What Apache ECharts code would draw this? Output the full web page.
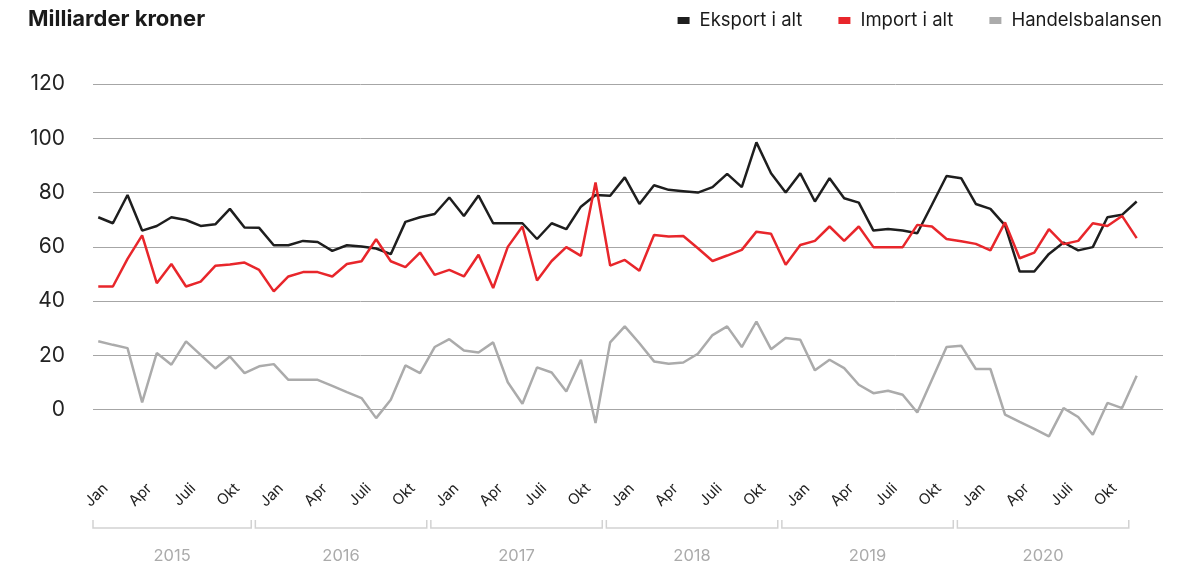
<!DOCTYPE html>
<html>
<head>
<meta charset="utf-8">
<script src="https://cdn.jsdelivr.net/npm/echarts@6/dist/echarts.min.js"></script>
<style>
  html, body { margin: 0; padding: 0; background: #fff; }
  #chart { width: 1188px; height: 566px; }
</style>
</head>
<body>
<div id="chart"></div>
<script>
// ---- data ----
const years = ['2015', '2016', '2017', '2018', '2019', '2020'];
const monthNames = ['Jan', 'Feb', 'Mar', 'Apr', 'Mai', 'Jun', 'Juli', 'Aug', 'Sep', 'Okt', 'Nov', 'Des'];
const yTicks = [0, 20, 40, 60, 80, 100, 120];

const eksport = [
  70.9, 68.7, 79.1, 66.0, 67.7, 70.9, 69.9, 67.7, 68.3, 74.0, 67.1, 67.0,
  60.6, 60.6, 62.2, 61.8, 58.5, 60.6, 60.1, 59.4, 57.3, 69.2, 70.9, 72.1,
  78.2, 71.4, 78.9, 68.7, 68.7, 68.7, 62.9, 68.7, 66.5, 74.8, 79.1, 78.8,
  85.6, 75.8, 82.7, 81.0, 80.5, 80.0, 82.0, 86.9, 82.0, 98.5, 87.1, 80.0,
  87.1, 76.7, 85.3, 77.9, 76.3, 66.0, 66.6, 66.0, 65.0, 75.5, 86.1, 85.3,
  75.8, 74.0, 67.9, 50.9, 50.9, 57.4, 61.6, 58.7, 59.9, 70.9, 71.8, 76.7
];
const importData = [
  45.4, 45.4, 55.6, 64.2, 46.6, 53.7, 45.4, 47.2, 53.0, 53.5, 54.2, 51.5,
  43.6, 49.1, 50.7, 50.7, 49.1, 53.7, 54.7, 62.8, 54.7, 52.5, 57.9, 49.7,
  51.5, 49.1, 57.1, 44.8, 60.0, 67.5, 47.6, 54.8, 59.9, 56.7, 83.7, 53.1,
  55.2, 51.2, 64.4, 63.8, 64.0, 59.5, 54.8, 56.8, 58.9, 65.6, 64.8, 53.4,
  60.7, 62.2, 67.5, 62.2, 67.5, 59.9, 59.9, 59.9, 68.1, 67.5, 62.9, 62.1,
  61.1, 58.7, 69.0, 55.8, 57.9, 66.5, 61.0, 62.2, 68.7, 67.7, 71.4, 63.2
];
const handelsbalansen = [
  25.2, 23.9, 22.7, 2.7, 20.9, 16.6, 25.2, 20.2, 15.2, 19.6, 13.5, 16.0,
  16.8, 11.0, 11.0, 11.0, 8.8, 6.5, 4.3, -3.1, 3.7, 16.3, 13.5, 23.1,
  26.0, 21.8, 21.1, 24.8, 10.1, 2.2, 15.6, 13.7, 6.7, 18.4, -4.9, 24.8,
  30.7, 24.5, 17.8, 16.9, 17.4, 20.6, 27.5, 30.7, 23.1, 32.5, 22.3, 26.4,
  25.8, 14.5, 18.4, 15.3, 9.2, 6.1, 7.0, 5.5, -1.0, 11.0, 23.1, 23.6,
  15.0, 15.0, -1.8, -4.5, -7.1, -9.8, 0.6, -2.7, -9.2, 2.5, 0.6, 12.5
];

// ---- derived ----
const monthLabels = [];
years.forEach(() => monthNames.forEach(m => monthLabels.push(m)));
const toPairs = arr => arr.map((v, i) => [i, v]);

const X_MIN = -0.36, X_MAX = 72.8;
const FONT = 'Inter, "Noto Sans", sans-serif';

const chart = echarts.init(document.getElementById('chart'), null, { renderer: 'canvas' });

const option = {
  animation: false,
  backgroundColor: '#fff',
  textStyle: { fontFamily: FONT },
  title: {
    text: 'Milliarder kroner',
    left: 23, top: 3,
    textStyle: { fontFamily: FONT, fontSize: 22, fontWeight: 'bold', color: '#1a1a1a' }
  },
  legend: {
    right: 21, top: 6,
    icon: 'rect', itemWidth: 12, itemHeight: 7, itemGap: 36,
    textStyle: { fontFamily: FONT, fontSize: 18.5, color: '#1a1a1a', padding: [0, 0, 0, 5] },
    data: ['Eksport i alt', 'Import i alt', 'Handelsbalansen']
  },
  grid: [
    { left: 93, right: 25, top: 84, bottom: 102 },
    { left: 105.5, right: 44.5, top: 84, bottom: 102 }
  ],
  xAxis: [
    { type: 'value', gridIndex: 0, min: X_MIN, max: X_MAX, show: false },
    {
      type: 'category', gridIndex: 1, data: monthLabels, boundaryGap: false,
      axisLine: { show: false }, axisTick: { show: false }, splitLine: { show: false },
      axisLabel: { interval: 2, rotate: 45, margin: 22, fontSize: 15, color: '#222', fontFamily: FONT }
    }
  ],
  yAxis: [
    {
      type: 'value', gridIndex: 0, min: -20, max: 120, interval: 20,
      axisLine: { show: false }, axisTick: { show: false },
      axisLabel: {
        fontSize: 21, color: '#222', margin: 28, fontFamily: FONT,
        formatter: v => (yTicks.indexOf(v) >= 0 ? String(v) : '')
      },
      splitLine: { show: true, showMinLine: false, lineStyle: { color: '#a6a6a6', width: 1 } }
    },
    { type: 'value', gridIndex: 1, show: false, min: -20, max: 120 }
  ],
  series: [
    {
      name: 'Eksport i alt', type: 'line', xAxisIndex: 0, yAxisIndex: 0,
      data: toPairs(eksport), showSymbol: false, symbol: 'none',
      color: '#1e1e1e', lineStyle: { width: 2.5, color: '#1e1e1e' }, z: 3
    },
    {
      name: 'Import i alt', type: 'line', xAxisIndex: 0, yAxisIndex: 0,
      data: toPairs(importData), showSymbol: false, symbol: 'none',
      color: '#e8262b', lineStyle: { width: 2.5, color: '#e8262b' }, z: 4
    },
    {
      name: 'Handelsbalansen', type: 'line', xAxisIndex: 0, yAxisIndex: 0,
      data: toPairs(handelsbalansen), showSymbol: false, symbol: 'none',
      color: '#ababab', lineStyle: { width: 2.5, color: '#ababab' }, z: 2
    },
    {
      name: 'years', type: 'custom', xAxisIndex: 0, yAxisIndex: 0, clip: false, silent: true,
      data: years.map((y, k) => [k]),
      renderItem: function (params, api) {
        const k = api.value(0);
        const cs = params.coordSys;
        const start = Math.max(12 * k - 1.26, X_MIN);
        const end = 12 * k + 10.46;
        const x0 = api.coord([start, 0])[0];
        const x1 = api.coord([end, 0])[0];
        const yb = cs.y + cs.height + 64;
        return {
          type: 'group',
          children: [
            {
              type: 'polyline',
              shape: { points: [[x0, yb - 8], [x0, yb], [x1, yb], [x1, yb - 8]] },
              style: { stroke: '#d2d2d2', lineWidth: 1.5, fill: null }
            },
            {
              type: 'text',
              style: {
                text: years[k], x: (x0 + x1) / 2, y: yb + 28,
                align: 'center', verticalAlign: 'middle',
                fill: '#ababab', fontSize: 16.5, fontFamily: FONT
              }
            }
          ]
        };
      }
    }
  ]
};

chart.setOption(option);
</script>
</body>
</html>
